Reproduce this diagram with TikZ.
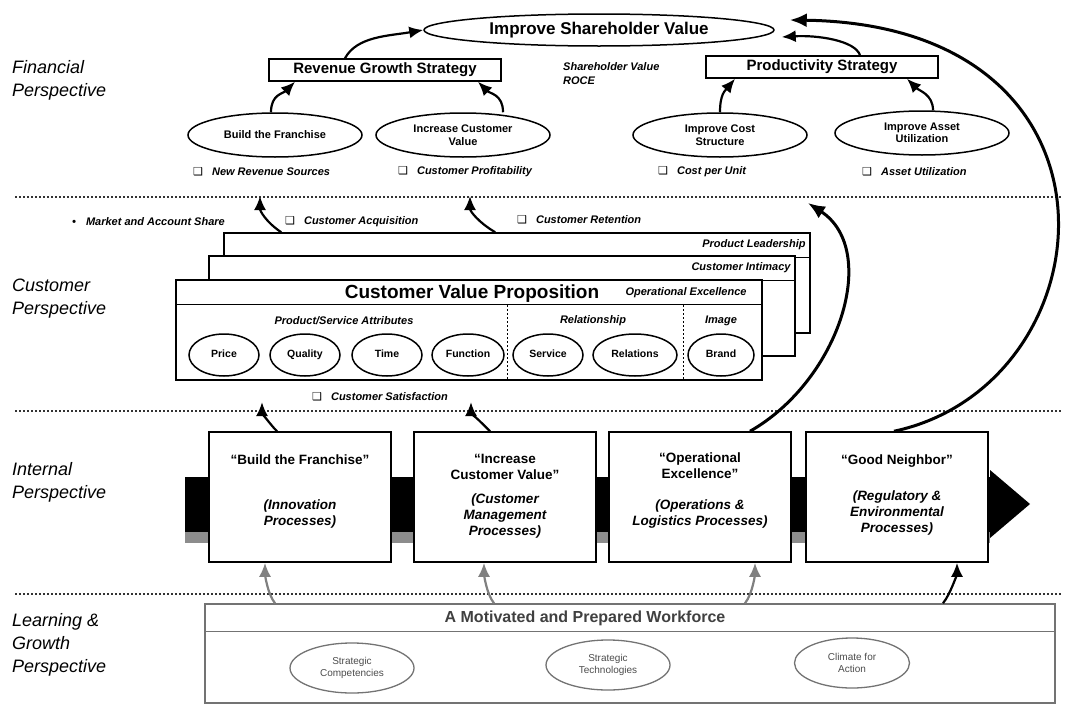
\documentclass[tikz,border=0pt]{standalone}
\usepackage{fontspec}
\setmainfont{Liberation Sans}
\newfontfamily\symfont{DejaVu Sans}
\usepackage{tikz}
\usetikzlibrary{arrows.meta,positioning,shapes.geometric}
\newcommand{\qbox}{{\symfont\char"2751}\hspace{9pt}}
\tikzset{
  persp/.style={anchor=west, align=left, inner sep=0pt, font=\fontsize{18}{23}\selectfont\itshape},
  goal/.style={ellipse, draw, line width=1.5pt, minimum width=350, minimum height=32, inner sep=0pt, font=\bfseries\fontsize{17}{17}\selectfont},
  strat/.style={draw, line width=1.5pt, fill=white, minimum width=232, minimum height=22, inner sep=0pt, font=\bfseries\fontsize{15}{15}\selectfont},
  obj/.style={ellipse, draw, line width=1.5pt, minimum width=174, minimum height=44, inner sep=0pt, align=center, font=\bfseries\fontsize{11}{12.5}\selectfont},
  meas/.style={inner sep=0pt, font=\bfseries\itshape\fontsize{11}{14}\selectfont},
  vpbox/.style={draw, line width=1.5pt, fill=white, minimum width=586, minimum height=100},
  vptitle/.style={inner sep=0pt, font=\bfseries\fontsize{19}{19}\selectfont},
  attr/.style={ellipse, draw, line width=1.5pt, minimum width=70, minimum height=42, inner sep=0pt, text height=7.5pt, text depth=2pt, font=\bfseries\fontsize{10.5}{12}\selectfont},
  proc/.style={draw, line width=1.5pt, fill=white, minimum width=182, minimum height=130},
  ptitle/.style={anchor=north, inner sep=0pt, align=center, font=\bfseries\fontsize{13.5}{16}\selectfont},
  pbody/.style={inner sep=0pt, align=center, font=\bfseries\itshape\fontsize{13.5}{16}\selectfont},
  lgbox/.style={draw=black!55, line width=1.5pt, minimum width=850, minimum height=99},
  lgell/.style={ellipse, draw=black!55, line width=1.3pt, minimum width=124, minimum height=50, inner sep=0pt, align=center, text=black!70, font=\fontsize{10}{11.5}\selectfont},
  divider/.style={dash pattern=on 2pt off 2pt, line width=1.2pt, draw=black!80},
  vdiv/.style={dash pattern=on 2pt off 2pt, line width=1pt},
  arrow/.style={-{Latex[length=14pt,width=12pt]}, line width=2.2pt},
  garrow/.style={arrow, draw=black!50},
  bigarrow/.style={-{Latex[length=17pt,width=14pt]}, line width=3pt}
}

\begin{document}
\begin{tikzpicture}[x=1pt, y=-1pt]
  \useasboundingbox (0,0) rectangle (1068,707);

  \node[persp] (finl) at (12,80) {Financial\\Perspective};
  \node[persp] (cusl) at (12,299) {Customer\\Perspective};
  \node[persp] (intl) at (12,482) {Internal\\Perspective};
  \node[persp] (lgl) at (12,645) {Learning \&\\Growth\\Perspective};

  \draw[divider] (15,197) -- (1062,197);
  \draw[divider] (15,411) -- (1062,411);
  \draw[divider] (15,594) -- (1062,594);

  \node[goal] (isv) at (599,30) {Improve Shareholder Value};
  \node[strat] (rgs) at (385,70) {Revenue Growth Strategy};
  \node[strat] (ps) at (822,67) {Productivity Strategy};
  \node[meas, anchor=west, align=left] (svr) at (563,74) {Shareholder Value\\ROCE};

  \node[obj] (bf) at (275,135) {Build the Franchise};
  \node[obj] (icv) at (463,135) {Increase Customer\\Value};
  \node[obj] (ics) at (720,135) {Improve Cost\\Structure};
  \node[obj] (iau) at (922,133) {Improve Asset\\Utilization};

  \node[meas, anchor=west] (nrs) at (193,172) {\qbox New Revenue Sources};
  \node[meas, anchor=west] (cpr) at (398,172) {\qbox Customer Profitability};
  \node[meas, anchor=west] (cpu) at (658,172) {\qbox Cost per Unit};
  \node[meas, anchor=west] (aut) at (862,172) {\qbox Asset Utilization};

  \draw[arrow] ([xshift=-4pt]bf.north) .. controls +(0,-18) and +(-12,12) .. ([xshift=-90pt]rgs.south);
  \draw[arrow] ([xshift=40pt]icv.north) .. controls +(0,-18) and +(12,12) .. ([xshift=93pt]rgs.south);
  \draw[arrow] (ics.north) .. controls +(0,-18) and +(-10,12) .. ([xshift=-87pt]ps.south);
  \draw[arrow] ([xshift=11pt]iau.north) .. controls +(0,-16) and +(12,12) .. ([xshift=85pt]ps.south);
  \draw[arrow] ([xshift=-40pt]rgs.north) .. controls +(12,-22) and +(-35,6) .. (isv.west);
  \draw[arrow] ([xshift=38pt]ps.north) .. controls +(-5,-15) and +(35,-2) .. ([xshift=7pt,yshift=-7pt]isv.east);

  \node[meas, anchor=west] (mas) at (72,222) {\textbullet\hspace{10pt}Market and Account Share};
  \node[meas, anchor=west] (cac) at (285,222) {\qbox Customer Acquisition};
  \node[meas, anchor=west] (cre) at (517,220) {\qbox Customer Retention};

  \node[vpbox] (lead) at (517,283) {};
  \draw[line width=1.5pt] ([yshift=-25pt]lead.north west) -- ([yshift=-25pt]lead.north east);
  \node[vpbox] (intim) at (502,306) {};
  \draw[line width=1.5pt] ([yshift=-25pt]intim.north west) -- ([yshift=-25pt]intim.north east);
  \node[vpbox] (cvp) at (469,330) {};
  \draw[line width=1.5pt] ([yshift=-25pt]cvp.north west) -- ([yshift=-25pt]cvp.north east);
  \node[meas, anchor=east] (pl) at ([xshift=-5pt,yshift=-12pt]lead.north east) {Product Leadership};
  \node[meas, anchor=east] (ci) at ([xshift=-5pt,yshift=-12pt]intim.north east) {Customer Intimacy};
  \node[vptitle] (cvpt) at (472,294) {Customer Value Proposition};
  \node[meas, anchor=east] (oe) at ([xshift=-16pt,yshift=-13pt]cvp.north east) {Operational Excellence};
  \draw[vdiv] (507,305) -- (507,380);
  \draw[vdiv] (683,305) -- (683,380);
  \node[meas] (psa) at (344,321) {Product/Service Attributes};
  \node[meas] (rel) at (593,321) {Relationship};
  \node[meas] (img) at (721,321) {Image};
  \node[attr] (price) at (224,355) {Price};
  \node[attr] (qual) at (305,355) {Quality};
  \node[attr] (time) at (387,355) {Time};
  \node[attr, minimum width=72] (func) at (468,355) {Function};
  \node[attr] (serv) at (548,355) {Service};
  \node[attr, minimum width=84] (rels) at (635,355) {Relations};
  \node[attr, minimum width=66] (brand) at (721,355) {Brand};
  \node[meas, anchor=west] (csat) at (312,397) {\qbox Customer Satisfaction};

  \coordinate (nrsup) at (260,196);
  \coordinate (cprup) at (470,196);
  \draw[arrow] ([xshift=58pt]lead.north west) .. controls +(-15,-10) and +(0,15) .. (nrsup);
  \draw[arrow] ([xshift=272pt]lead.north west) .. controls +(-17,-10) and +(0,15) .. (cprup);

  \fill[black] (185,477) rectangle (990,532);
  \fill[black!45] (185,532) rectangle (990,543);
  \fill[black] (990,470) -- (1030,504) -- (990,538) -- cycle;

  \node[proc] (ib1) at (300,497) {};
  \node[proc] (ib2) at (505,497) {};
  \node[proc] (ib3) at (700,497) {};
  \node[proc] (ib4) at (897,497) {};
  \node[ptitle] (ib1t) at ([yshift=-23pt]ib1.north) {“Build the Franchise”};
  \node[ptitle] (ib2t) at ([yshift=-23pt]ib2.north) {“Increase\\Customer Value”};
  \node[ptitle] (ib3t) at ([yshift=-21pt]ib3.north) {“Operational\\Excellence”};
  \node[ptitle] (ib4t) at ([yshift=-23pt]ib4.north) {“Good Neighbor”};
  \node[pbody] (ib1b) at ([yshift=-17pt]ib1.center) {(Innovation\\Processes)};
  \node[pbody] (ib2b) at ([yshift=-19pt]ib2.center) {(Customer\\Management\\Processes)};
  \node[pbody] (ib3b) at ([yshift=-17pt]ib3.center) {(Operations \&\\Logistics Processes)};
  \node[pbody] (ib4b) at ([yshift=-16pt]ib4.center) {(Regulatory \&\\Environmental\\Processes)};

  \coordinate (satl) at (262,402);
  \coordinate (satr) at (471,402);
  \draw[arrow] ([xshift=-23pt]ib1.north) .. controls +(-8,-8) and +(0,10) .. (satl);
  \draw[arrow] ([xshift=-15pt]ib2.north) .. controls +(-8,-8) and +(0,10) .. (satr);

  \coordinate (caa) at (808,203);
  \draw[bigarrow] ([xshift=50pt]ib3.north) .. controls (840,380) and (880,250) .. (caa);
  \draw[bigarrow] ([xshift=-3pt]ib4.north) .. controls (1110,385) and (1145,25) .. ([xshift=15pt,yshift=10pt]isv.east);

  \node[lgbox] (wf) at (630,653.5) {};
  \draw[draw=black!55, line width=1.5pt] ([yshift=-28pt]wf.north west) -- ([yshift=-28pt]wf.north east);
  \node[inner sep=0pt, text=black!75, font=\bfseries\fontsize{16}{16}\selectfont] (wft) at (585,618) {A Motivated and Prepared Workforce};
  \node[lgell] (sc) at (352,668) {Strategic\\Competencies};
  \node[lgell] (st) at (608,665) {Strategic\\Technologies};
  \node[lgell, minimum width=115] (cfa) at (852,663) {Climate for\\Action};

  \draw[garrow] ([xshift=-355pt]wf.north) .. controls +(-8,-10) and +(0,10) .. ([xshift=-35pt]ib1.south);
  \draw[garrow] ([xshift=-136pt]wf.north) .. controls +(-8,-10) and +(0,10) .. ([xshift=-21pt]ib2.south);
  \draw[garrow] ([xshift=115pt]wf.north) .. controls +(8,-10) and +(0,10) .. ([xshift=55pt]ib3.south);
  \draw[arrow] ([xshift=313pt]wf.north) .. controls +(8,-10) and +(0,10) .. ([xshift=60pt]ib4.south);
\end{tikzpicture}
\end{document}
